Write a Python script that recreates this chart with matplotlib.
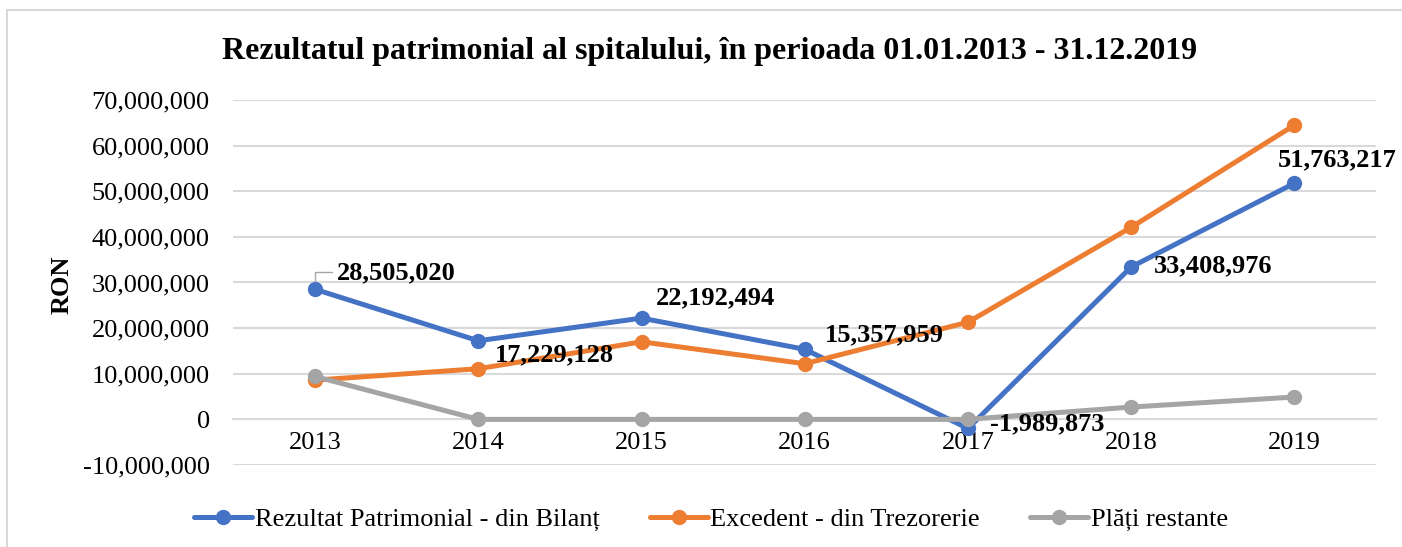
import numpy as np
import matplotlib
matplotlib.use('Agg')
import matplotlib.pyplot as plt
import matplotlib.patches as pat
from matplotlib.ticker import FuncFormatter

plt.rcParams['font.family'] = ['Liberation Serif', 'DejaVu Serif']

# Date
ani = ['2013', '2014', '2015', '2016', '2017', '2018', '2019']
rezultat_bilant = [28505020, 17229128, 22192494, 15357959, -1989873, 33408976, 51763217]
excedent_trezorerie = [8600000, 11100000, 17000000, 12200000, 21300000, 42100000, 64500000]
plati_restante = [9400000, 0, 0, 0, 0, 2700000, 4900000]

serii = ['Rezultat Patrimonial - din Bilanț', 'Excedent - din Trezorerie', 'Plăți restante']
culori = ['#4472C4', '#ED7D31', '#A5A5A5']

# offset etichete (pixeli) pentru seria albastra
offset_etichete = [(22, 17), (17, -14), (14, 20), (20, 14), (22, 5), (23, 1), (-17, 23)]

fig = plt.figure(figsize=(14.02, 5.47), dpi=100)
ax = fig.add_axes([0.1665, 0.1499, 0.8150, 0.6673])

x = np.arange(len(ani))
for valori, culoare, nume in zip([rezultat_bilant, excedent_trezorerie, plati_restante], culori, serii):
    ax.plot(x, valori, color=culoare, lw=3.6, marker='o', markersize=10,
            label=nume, solid_capstyle='round', zorder=3)

# eticheta cu linie de legatura pentru 2013
ax.annotate('{:,}'.format(rezultat_bilant[0]), xy=(x[0], rezultat_bilant[0]),
            xytext=offset_etichete[0], textcoords='offset pixels',
            ha='left', va='center', fontsize=19, fontweight='bold',
            arrowprops=dict(arrowstyle='-', color='#A5A5A5', lw=1,
                            connectionstyle='angle,angleA=0,angleB=90,rad=0',
                            shrinkA=2, shrinkB=6))
for i in range(1, len(ani)):
    ax.annotate('{:,}'.format(rezultat_bilant[i]), xy=(x[i], rezultat_bilant[i]),
                xytext=offset_etichete[i], textcoords='offset pixels',
                ha='left', va='center', fontsize=19, fontweight='bold', zorder=5)

ax.set_xlim(-0.5, len(ani) - 0.5)
ax.set_ylim(-10000000, 70000000)
ax.set_yticks(np.arange(-10000000, 70000001, 10000000))
ax.yaxis.set_major_formatter(FuncFormatter(lambda v, p: '{:,}'.format(int(v))))
ax.set_xticks(x)
ax.set_xticklabels(ani)
ax.grid(axis='y', color='#D9D9D9', lw=1.5, zorder=0)
ax.set_axisbelow(True)
for s in ['top', 'right', 'left']:
    ax.spines[s].set_visible(False)
ax.spines['bottom'].set_position(('data', 0))
ax.spines['bottom'].set_color('#D9D9D9')
ax.spines['bottom'].set_linewidth(1.5)
ax.tick_params(axis='both', length=0, labelsize=19)
ax.tick_params(axis='y', pad=17)
ax.tick_params(axis='x', pad=9)

fig.text(0.5064, 0.906, 'Rezultatul patrimonial al spitalului, în perioada 01.01.2013 - 31.12.2019',
         ha='center', va='center', fontsize=23, fontweight='bold')
fig.text(0.044, 1 - 285 / 547, 'RON', rotation=90, ha='center', va='center',
         fontsize=19, fontweight='bold')

fig.legend(loc='center', bbox_to_anchor=(0.507, 0.051), ncol=3, frameon=False,
           fontsize=19, handlelength=2.2, handletextpad=0.1, columnspacing=1.9)

chenar = pat.Rectangle((7 / 1402, -0.1), 1.1, 0.1 + 1 - 10 / 547, transform=fig.transFigure,
                       fill=False, ec='#D9D9D9', lw=1.5)
fig.patches.append(chenar)

fig.savefig('out.png', dpi=100)
